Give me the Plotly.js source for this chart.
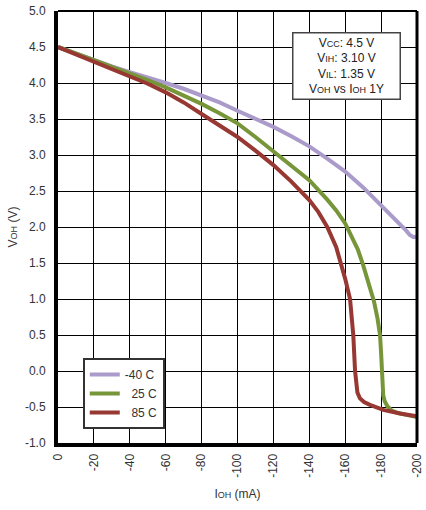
<!DOCTYPE html>
<html>
<head>
<meta charset="utf-8">
<script src="https://cdn.plot.ly/plotly-3.0.1.min.js"></script>
<style>
html,body{margin:0;padding:0;background:#fff;}
#chart{width:426px;height:510px;}
</style>
</head>
<body>
<div id="chart"></div>
<script>
// ---- data ----
const seriesNames = ["-40 C", "\u00a0\u00a025 C", "\u00a0\u00a085 C"];

const iM40 = [0, -10, -20, -30, -40, -50, -60, -70, -80, -90, -100, -110, -120, -130, -140, -150, -160, -170, -180, -185, -190, -194, -196, -198, -200];
const vM40 = [4.50, 4.41, 4.31, 4.23, 4.15, 4.08, 4.00, 3.92, 3.83, 3.73, 3.615, 3.51, 3.39, 3.26, 3.12, 2.95, 2.77, 2.55, 2.30, 2.18, 2.06, 1.95, 1.89, 1.86, 1.86];

const i25 = [0, -10, -20, -30, -40, -50, -60, -70, -80, -90, -100, -110, -120, -130, -140, -150, -155, -160, -164, -167, -170, -173, -176, -178, -179.4, -180, -180.4, -180.7, -181.2, -182, -183.5, -186, -189, -194, -200];
const v25 = [4.50, 4.41, 4.31, 4.22, 4.13, 4.04, 3.94, 3.83, 3.71, 3.58, 3.44, 3.25, 3.05, 2.86, 2.65, 2.38, 2.23, 2.05, 1.86, 1.69, 1.47, 1.22, 0.97, 0.73, 0.50, 0.25, 0.00, -0.22, -0.34, -0.42, -0.49, -0.55, -0.58, -0.61, -0.64];

const i85 = [0, -10, -20, -30, -40, -50, -60, -70, -80, -90, -100, -110, -120, -130, -140, -145, -150, -155, -157.5, -160, -162.7, -164.5, -165.5, -166, -166.8, -168.2, -170.5, -173.8, -181.2, -190.5, -200];
const v85 = [4.50, 4.40, 4.30, 4.20, 4.10, 3.99, 3.87, 3.73, 3.57, 3.41, 3.25, 3.06, 2.86, 2.63, 2.375, 2.21, 2.00, 1.72, 1.51, 1.28, 1.00, 0.50, 0.00, -0.20, -0.30, -0.38, -0.43, -0.47, -0.54, -0.59, -0.63];

const xTickVals = [0, -20, -40, -60, -80, -100, -120, -140, -160, -180, -200];
const xTickText = ["0", "-20", "-40", "-60", "-80", "-100", "-120", "-140", "-160", "-180", "-200"];
const yTickVals = [5.0, 4.5, 4.0, 3.5, 3.0, 2.5, 2.0, 1.5, 1.0, 0.5, 0.0, -0.5, -1.0];
const yTickText = ["5.0", "4.5", "4.0", "3.5", "3.0", "2.5", "2.0", "1.5", "1.0", "0.5", "0.0", "-0.5", "-1.0"];

const colors = ["#ab9bcb", "#77963a", "#973833"];
const sub = s => '<span style="font-size:9px">' + s + '</span>';
const noteText = "V" + sub("CC") + ": 4.5 V<br>V" + sub("IH") + ": 3.10 V<br>V" + sub("IL") + ": 1.35 V<br>V" + sub("OH") + " vs I" + sub("OH") + " 1Y";

const xs = [iM40, i25, i85];
const ys = [vM40, v25, v85];
const traces = xs.map((x, k) => ({
  x: x, y: ys[k], name: seriesNames[k], type: "scatter", mode: "lines",
  line: {color: colors[k], width: 4}
}));

const font = {family: "Liberation Sans, Arial, sans-serif", size: 12, color: "#333"};

const layout = {
  width: 426, height: 510,
  margin: {l: 58, r: 9, t: 11, b: 67},
  paper_bgcolor: "#fff", plot_bgcolor: "#fff",
  font: font,
  showlegend: true,
  xaxis: {
    range: [0, -200], tickvals: xTickVals, ticktext: xTickText, tickangle: -90,
    showgrid: true, gridcolor: "#000", gridwidth: 1, zeroline: false,
    showline: true, linecolor: "#000", linewidth: 4, ticks: "",
    ticklabelstandoff: 2,
    title: {text: "I" + sub("OH") + " (mA)", font: font, standoff: 14},
    automargin: false
  },
  yaxis: {
    range: [-1, 5], tickvals: yTickVals, ticktext: yTickText,
    showgrid: true, gridcolor: "#000", gridwidth: 1, zeroline: false,
    showline: true, linecolor: "#000", linewidth: 4, ticks: "",
    ticklabelstandoff: 6,
    title: {text: "V" + sub("OH") + " (V)", font: font, standoff: 6},
    automargin: false
  },
  legend: {
    x: 0.069, y: 0.197, xanchor: "left", yanchor: "top",
    bgcolor: "#fff", bordercolor: "#333", borderwidth: 2,
    font: font
  },
  shapes: [
    {type: "line", xref: "paper", yref: "paper", x0: 0, x1: 1, y0: 1, y1: 1, line: {color: "#000", width: 2}},
    {type: "line", xref: "paper", yref: "paper", x0: 1, x1: 1, y0: 0, y1: 1, line: {color: "#000", width: 3}}
  ],
  annotations: [{
    xref: "paper", yref: "paper", x: 0.803, y: 0.872, xanchor: "center", yanchor: "middle",
    text: noteText, showarrow: false, align: "center",
    bgcolor: "#fff", bordercolor: "#444", borderwidth: 1.5, borderpad: 2,
    width: 102, font: {family: font.family, size: 12, color: "#222"}
  }]
};

Plotly.newPlot("chart", traces, layout, {displayModeBar: false, staticPlot: true});
</script>
</body>
</html>
